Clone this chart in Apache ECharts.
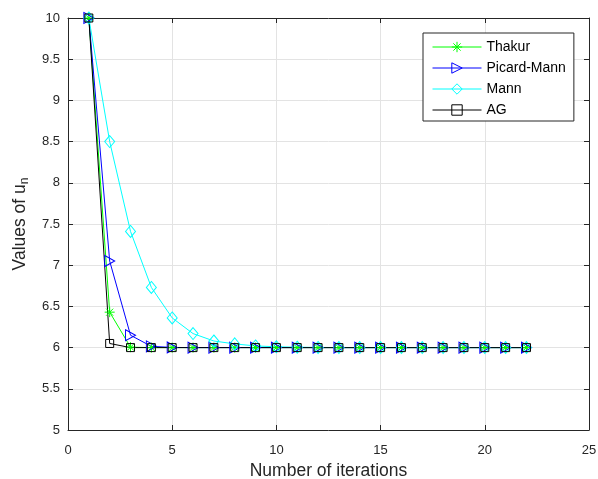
<!DOCTYPE html>
<html><head><meta charset="utf-8">
<script src="https://cdn.jsdelivr.net/npm/echarts@6/dist/echarts.min.js"></script>
<style>html,body{margin:0;padding:0;background:#fff}#c{width:598px;height:479px}</style>
</head><body><div id="c"></div>
<script>
const iterations = [1,2,3,4,5,6,7,8,9,10,11,12,13,14,15,16,17,18,19,20,21,22];
const thakur = [10,6.43,6.005,6,6,6,6,6,6,6,6,6,6,6,6,6,6,6,6,6,6,6];
const picardMann = [10,7.05,6.15,6.015,6.002,6,6,6,6,6,6,6,6,6,6,6,6,6,6,6,6,6];
const mann = [10,8.5,7.41,6.73,6.36,6.17,6.08,6.045,6.02,6.01,6.005,6.002,6.001,6,6,6,6,6,6,6,6,6];
const ag = [10,6.05,6.0,6,6,6,6,6,6,6,6,6,6,6,6,6,6,6,6,6,6,6];
const seriesNames = ['Thakur','Picard-Mann','Mann','AG'];
const xTicks = [0,5,10,15,20,25];
const yTicks = [5,5.5,6,6.5,7,7.5,8,8.5,9,9.5,10];

const FONT = '"Liberation Sans", Arial, Helvetica, sans-serif';
const star = 'path://M10,0 L10,20 M0,10 L20,10 M3,3 L17,17 M3,17 L17,3';
const triR = 'path://M0,0 L10,5 L0,10 Z';
const colors = ['#00ff00','#0000ff','#00ffff','#000000'];
const symbols = [star, triR, 'diamond', 'rect'];
const sizes = [10, [10,11], [10,12], 8];
const pair = a => a.map((v,i)=>[iterations[i], v]);
function mk(idx, data){
  const color = colors[idx];
  return {
    name: seriesNames[idx], type:'line', data: pair(data), symbol: symbols[idx], symbolSize: sizes[idx],
    showAllSymbol:true, animation:false,
    lineStyle:{color, width:1},
    itemStyle:{color:'rgba(255,255,255,0)', borderColor:color, borderWidth:1},
    emphasis:{disabled:true}
  };
}
const axisCol = '#262626';
const chart = echarts.init(document.getElementById('c'), null, {renderer:'canvas'});
chart.setOption({
  animation:false,
  textStyle:{fontFamily:FONT},
  grid:{left:68, right:9, top:18, bottom:49, containLabel:false, outerBoundsMode:'none'},
  legend:{
    left:423, top:33, width:151, orient:'vertical',
    data: seriesNames.map((n,i)=>({name:n,
      itemStyle:{color:'rgba(255,255,255,0)', borderColor:colors[i], borderWidth:1},
      lineStyle:{color:colors[i], width:1}})),
    itemWidth:49, itemHeight:13, itemGap:7,
    padding:[7,8,4,9],
    borderColor:'#262626', borderWidth:1, backgroundColor:'#fff',
    textStyle:{fontSize:14, color:'#000', fontFamily:FONT},
    selectedMode:false
  },
  xAxis:[{
    type:'value', min:0, max:25, interval:5,
    name:'Number of iterations', nameLocation:'middle', nameGap:31,
    nameTextStyle:{fontSize:17.5, color:'#262626', fontFamily:FONT},
    axisLine:{show:true, onZero:false, lineStyle:{color:axisCol}},
    axisTick:{show:true, inside:true, length:5, lineStyle:{color:axisCol}},
    axisLabel:{fontSize:13, color:'#262626', margin:14, fontFamily:FONT},
    splitLine:{show:true, lineStyle:{color:'#e3e3e3'}}
  },{
    type:'value', position:'top', min:0, max:25, interval:5,
    axisLine:{show:true, onZero:false, lineStyle:{color:axisCol}},
    axisTick:{show:true, inside:true, length:5, lineStyle:{color:axisCol}},
    axisLabel:{show:false}, splitLine:{show:false}
  }],
  yAxis:[{
    type:'value', min:5, max:10, interval:0.5,
    name:'Values of u{sub|n}', nameLocation:'middle', nameGap:36,
    nameTextStyle:{fontSize:17.5, color:'#262626', fontFamily:FONT,
      rich:{sub:{fontSize:12, color:'#262626', verticalAlign:'bottom', padding:[9,0,0,0], fontFamily:FONT}}},
    axisLine:{show:true, onZero:false, lineStyle:{color:axisCol}},
    axisTick:{show:true, inside:true, length:5, lineStyle:{color:axisCol}},
    axisLabel:{fontSize:13, color:'#262626', margin:8, fontFamily:FONT},
    splitLine:{show:true, lineStyle:{color:'#e3e3e3'}}
  },{
    type:'value', position:'right', min:5, max:10, interval:0.5,
    axisLine:{show:true, onZero:false, lineStyle:{color:axisCol}},
    axisTick:{show:true, inside:true, length:5, lineStyle:{color:axisCol}},
    axisLabel:{show:false}, splitLine:{show:false}
  }],
  series:[ mk(0, thakur), mk(1, picardMann), mk(2, mann), mk(3, ag) ]
});
</script></body></html>
